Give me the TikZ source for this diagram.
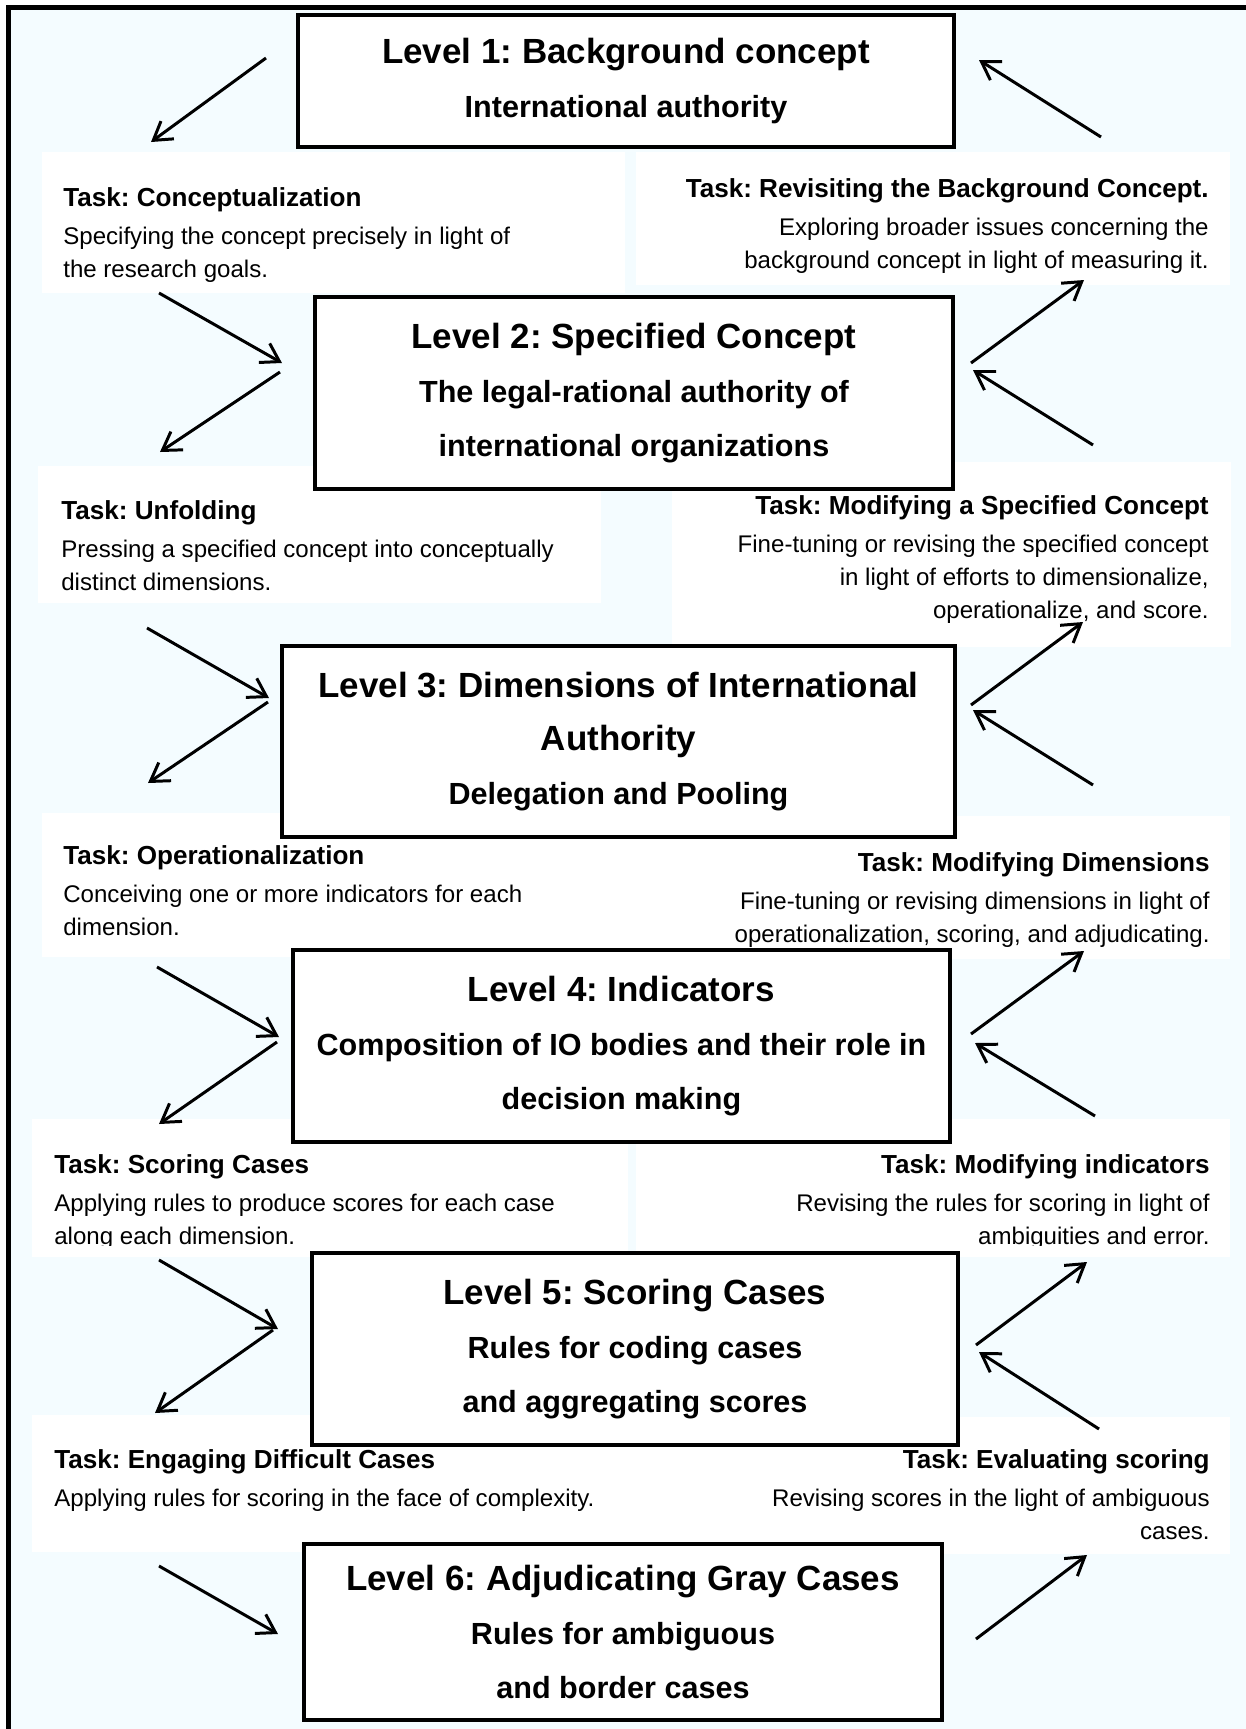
\documentclass[tikz,border=0pt]{standalone}
\usepackage{fontspec}
\setmainfont{Liberation Sans}
\frenchspacing
\usetikzlibrary{arrows.meta}
\definecolor{bgblue}{RGB}{244,252,255}
\newcommand{\lvfont}{\fontsize{19.9}{30.5}\selectfont\bfseries}
\newcommand{\lvsub}{\fontsize{17.4}{30.5}\selectfont}
\newcommand{\tkfont}{\fontsize{13.7}{18.8}\selectfont}
\newcommand{\tkhead}[1]{{\fontsize{14.85}{18.8}\selectfont\bfseries #1}}

\begin{document}
\begin{tikzpicture}[x=0.02cm, y=-0.02cm,
	lvl/.style={draw, line width=2.3pt, fill=white, align=center, inner sep=0pt, font=\lvfont},
	task/.style={inner sep=0pt, font=\tkfont},
	tl/.style={task, align=left, anchor=north west},
	tr/.style={task, align=right, anchor=north east},
	panel/.style={fill=white},
	flow/.style={line width=1.7pt, -{Straight Barb[length=10pt, width=12.5pt]}}]
	\useasboundingbox (0,0) rectangle (1246,1729);
	%frame
	\fill[white] (0,0) rectangle (1246,1729);
	\fill[bgblue] (8,7) rectangle (1246,1729);
	\draw[line width=2.85pt] (8.5,1729) -- (8.5,7.5) -- (1246,7.5);
	%white panels behind the tasks
	\fill[panel] (42,152) rectangle (625,293);
	\fill[panel] (636,152) rectangle (1230,285);
	\fill[panel] (38,466) rectangle (601,603);
	\fill[panel] (672,462) rectangle (1231,647);
	\fill[panel] (42,813) rectangle (600,957);
	\fill[panel] (600,816) rectangle (1230,959);
	\fill[panel] (32,1119) rectangle (628,1257);
	\fill[panel] (636,1119) rectangle (1230,1257);
	\fill[panel] (32,1415) rectangle (636,1552);
	\fill[panel] (636,1417) rectangle (1230,1554);
	
	%levels
	\node(l1)[lvl, minimum width=13.12cm, minimum height=2.64cm] at (626,81)
		{Level 1: Background concept\\ \lvsub International authority};
	\node(l2)[lvl, minimum width=12.76cm, minimum height=3.84cm] at (634,393)
		{Level 2: Specified Concept\\ \lvsub The legal-rational authority of\\ \lvsub international organizations};
	\node(l3)[lvl, minimum width=13.46cm, minimum height=3.82cm] at (618.5,741.5)
		{Level 3: Dimensions of International\\ Authority\\ \lvsub Delegation and Pooling};
	\node(l4)[lvl, minimum width=13.14cm, minimum height=3.84cm] at (621.5,1046)
		{Level 4: Indicators\\ \lvsub Composition of IO bodies and their role in\\ \lvsub decision making};
	\node(l5)[lvl, minimum width=12.92cm, minimum height=3.84cm] at (635,1349)
		{Level 5: Scoring Cases\\ \lvsub Rules for coding cases\\ \lvsub and aggregating scores};
	\node(l6)[lvl, minimum width=12.76cm, minimum height=3.52cm] at (623,1632)
		{Level 6: Adjudicating Gray Cases\\ \lvsub Rules for ambiguous\\ \lvsub and border cases};
	
	%tasks, left column
	\node(t1)[tl] at (63,187) {\tkhead{Task: Conceptualization}\\[2.8pt]
		Specifying the concept precisely in light of\\ the research goals.};
	\begin{scope}
		\clip (38,466) rectangle (601,590);
		\node(t3)[tl] at (61,500) {\tkhead{Task: Unfolding}\\[2.8pt]
			Pressing a specified concept into conceptually\\ distinct dimensions.};
	\end{scope}
	\node(t5)[tl] at (63,845) {\tkhead{Task: Operationalization}\\[2.8pt]
		Conceiving one or more indicators for each\\ dimension.};
	\begin{scope}
		\clip (32,1119) rectangle (628,1245);
		\node(t7)[tl] at (54,1154) {\tkhead{Task: Scoring Cases}\\[2.8pt]
			Applying rules to produce scores for each case\\ along each dimension.};
	\end{scope}
	\node(t9)[tl] at (54,1449) {\tkhead{Task: Engaging Difficult Cases}\\[2.8pt]
		Applying rules for scoring in the face of complexity.};
	%tasks, right column
	\node(t2)[tr] at (1209,178) {\tkhead{Task: Revisiting the Background Concept.}\\[2.8pt]
		Exploring broader issues concerning the\\ background concept in light of measuring it.};
	\node(t4)[tr] at (1209,495) {\tkhead{Task: Modifying a Specified Concept}\\[2.8pt]
		Fine-tuning or revising the specified concept\\ in light of efforts to dimensionalize,\\ operationalize, and score.};
	\node(t6)[tr] at (1210,852) {\tkhead{Task: Modifying Dimensions}\\[2.8pt]
		Fine-tuning or revising dimensions in light of\\ operationalization, scoring, and adjudicating.};
	\begin{scope}
		\clip (636,1119) rectangle (1230,1245);
		\node(t8)[tr] at (1210,1154) {\tkhead{Task: Modifying indicators}\\[2.8pt]
			Revising the rules for scoring in light of\\ ambiguities and error.};
	\end{scope}
	\node(t10)[tr] at (1210,1449) {\tkhead{Task: Evaluating scoring}\\[2.8pt]
		Revising scores in the light of ambiguous\\ cases.};
	
	%arrows down the left side
	\foreach \sx/\sy/\ex/\ey [count=\i] in {266/58/151/142, 159/293/282/363, 280/372/160/452,
		147/628/269/698, 268/702/148/783, 157/967/279/1037, 277/1042/159/1124,
		159/1260/278/1329, 273/1330/155/1413, 159/1566/278/1634}{
		\coordinate (ls\i) at (\sx,\sy);
		\coordinate (le\i) at (\ex,\ey);
		\draw[flow] (ls\i) -- (le\i);
	}
	%arrows up the right side
	\foreach \sx/\sy/\ex/\ey [count=\i] in {1101/137/979/60, 971/363/1084/280, 1093/445/973/370,
		971/705/1083/622, 1093/785/973/710, 971/1034/1084/951, 1095/1116/975/1043,
		976/1345/1087/1262, 1099/1429/979/1352, 976/1639/1087/1555}{
		\coordinate (rs\i) at (\sx,\sy);
		\coordinate (re\i) at (\ex,\ey);
		\draw[flow] (rs\i) -- (re\i);
	}
\end{tikzpicture}
\end{document}
